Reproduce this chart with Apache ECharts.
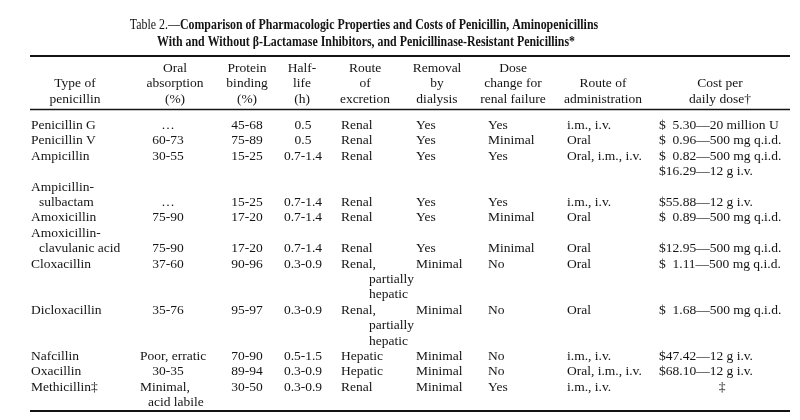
<!DOCTYPE html>
<html><head><meta charset="utf-8">
<script src="https://cdn.jsdelivr.net/npm/echarts@6/dist/echarts.min.js"></script>
<style>html,body{margin:0;padding:0;background:#fff}#c{width:800px;height:420px}</style>
</head><body><div id="c"></div>
<script>
// ---------- DATA ----------
const titleLine1Plain = 'Table 2.\u2014';
const titleLine1Bold = 'Comparison of Pharmacologic Properties and Costs of Penicillin, Aminopenicillins';
const titleLine2Bold = 'With and Without \u03B2-Lactamase Inhibitors, and Penicillinase-Resistant Penicillins*';

const headerTexts = [
  ['', 'Type of', 'penicillin'],
  ['Oral', 'absorption', '(%)'],
  ['Protein', 'binding', '(%)'],
  ['Half-', 'life', '(h)'],
  ['Route', 'of', 'excretion'],
  ['Removal', 'by', 'dialysis'],
  ['Dose', 'change for', 'renal failure'],
  ['', 'Route of', 'administration'],
  ['', 'Cost per', 'daily dose\u2020']
];

// [line, text, flag]  flag 1 = run-over indent, 2 = alternate placement
const typeOfPenicillin = [[0,'Penicillin G'],[1,'Penicillin V'],[2,'Ampicillin'],[4,'Ampicillin-'],[5,'sulbactam',1],[6,'Amoxicillin'],[7,'Amoxicillin-'],[8,'clavulanic acid',1],[9,'Cloxacillin'],[12,'Dicloxacillin'],[15,'Nafcillin'],[16,'Oxacillin'],[17,'Methicillin\u2021']];
const oralAbsorption = [[0,'\u2026'],[1,'60-73'],[2,'30-55'],[5,'\u2026'],[6,'75-90'],[8,'75-90'],[9,'37-60'],[12,'35-76'],[15,'Poor, erratic',2],[16,'30-35'],[17,'Minimal,',2],[18,'acid labile',1]];
const proteinBinding = [[0,'45-68'],[1,'75-89'],[2,'15-25'],[5,'15-25'],[6,'17-20'],[8,'17-20'],[9,'90-96'],[12,'95-97'],[15,'70-90'],[16,'89-94'],[17,'30-50']];
const halfLife = [[0,'0.5'],[1,'0.5'],[2,'0.7-1.4'],[5,'0.7-1.4'],[6,'0.7-1.4'],[8,'0.7-1.4'],[9,'0.3-0.9'],[12,'0.3-0.9'],[15,'0.5-1.5'],[16,'0.3-0.9'],[17,'0.3-0.9']];
const routeOfExcretion = [[0,'Renal'],[1,'Renal'],[2,'Renal'],[5,'Renal'],[6,'Renal'],[8,'Renal'],[9,'Renal,'],[10,'partially',1],[11,'hepatic',1],[12,'Renal,'],[13,'partially',1],[14,'hepatic',1],[15,'Hepatic'],[16,'Hepatic'],[17,'Renal']];
const removalByDialysis = [[0,'Yes'],[1,'Yes'],[2,'Yes'],[5,'Yes'],[6,'Yes'],[8,'Yes'],[9,'Minimal'],[12,'Minimal'],[15,'Minimal'],[16,'Minimal'],[17,'Minimal']];
const doseChangeRenalFailure = [[0,'Yes'],[1,'Minimal'],[2,'Yes'],[5,'Yes'],[6,'Minimal'],[8,'Minimal'],[9,'No'],[12,'No'],[15,'No'],[16,'No'],[17,'Yes']];
const routeOfAdministration = [[0,'i.m., i.v.'],[1,'Oral'],[2,'Oral, i.m., i.v.'],[5,'i.m., i.v.'],[6,'Oral'],[8,'Oral'],[9,'Oral'],[12,'Oral'],[15,'i.m., i.v.'],[16,'Oral, i.m., i.v.'],[17,'i.m., i.v.']];
const costPerDailyDose = [[0,'$\u20075.30\u201420 million U'],[1,'$\u20070.96\u2014500 mg q.i.d.'],[2,'$\u20070.82\u2014500 mg q.i.d.'],[3,'$16.29\u201412 g i.v.'],[5,'$55.88\u201412 g i.v.'],[6,'$\u20070.89\u2014500 mg q.i.d.'],[8,'$12.95\u2014500 mg q.i.d.'],[9,'$\u20071.11\u2014500 mg q.i.d.'],[12,'$\u20071.68\u2014500 mg q.i.d.'],[15,'$47.42\u201412 g i.v.'],[16,'$68.10\u201412 g i.v.'],[17,'\u2021',2]];

const bodyColumns = [typeOfPenicillin, oralAbsorption, proteinBinding, halfLife, routeOfExcretion, removalByDialysis, doseChangeRenalFailure, routeOfAdministration, costPerDailyDose];

// ---------- LAYOUT ----------
const FONT = '"Liberation Serif", "Times New Roman", serif';
const FS = 13.5;
const TFS = 14.5;
const INK = '#141414';
const headerCenters = [75, 175, 247, 302, 365, 437, 513, 603, 720];
const colLayout = [
  {x:31, align:'left', f1:{x:39, align:'left'}},
  {x:168, align:'center', f1:{x:148, align:'left'}, f2:{x:140, align:'left'}},
  {x:247, align:'center'},
  {x:303, align:'center'},
  {x:341, align:'left', f1:{x:369, align:'left'}},
  {x:416, align:'left'},
  {x:488, align:'left'},
  {x:567, align:'left'},
  {x:659, align:'left', f2:{x:722, align:'center'}}
];

const headerData = [];
headerTexts.forEach((col, ci) => col.forEach((t, li) => { if (t) headerData.push({value:[headerCenters[ci], li], text:t, align:'center'}); }));
const bodyData = [];
bodyColumns.forEach((col, ci) => col.forEach(([line, t, flag]) => {
  const L = colLayout[ci];
  const p = flag === 1 ? L.f1 : flag === 2 ? L.f2 : L;
  bodyData.push({value:[p.x, line], text:t, align:p.align});
}));

function textRenderer(data) {
  return function (params, api) {
    const d = data[params.dataIndex];
    const pt = api.coord([api.value(0), api.value(1)]);
    return {type:'text', x:pt[0], y:pt[1], style:{text:d.text, fill:INK, fontSize:FS, fontFamily:FONT, align:d.align, verticalAlign:'middle'}};
  };
}

const titleRich = {
  n:{fontFamily:FONT, fontSize:TFS, fontWeight:'normal', fill:INK},
  b:{fontFamily:FONT, fontSize:TFS, fontWeight:'bold', fill:INK}
};

const chart = echarts.init(document.getElementById('c'), null, {renderer:'canvas'});
chart.setOption({
  backgroundColor:'#ffffff',
  animation:false,
  grid:[
    {left:0, right:0, top:60.25, height:46.5},
    {left:0, right:0, top:117.8, height:292.6}
  ],
  xAxis:[
    {gridIndex:0, type:'value', min:0, max:800, show:false},
    {gridIndex:1, type:'value', min:0, max:800, show:false}
  ],
  yAxis:[
    {gridIndex:0, type:'value', min:-0.5, max:2.5, inverse:true, show:false},
    {gridIndex:1, type:'value', min:-0.5, max:18.5, inverse:true, show:false}
  ],
  graphic:[
    {type:'text', x:364, y:25, scaleX:0.82, style:{text:'{n|' + titleLine1Plain + '}{b|' + titleLine1Bold + '}', rich:titleRich, fill:INK, font:'bold ' + TFS + 'px ' + FONT, align:'center', verticalAlign:'middle'}},
    {type:'text', x:366, y:42, scaleX:0.82, style:{text:'{b|' + titleLine2Bold + '}', rich:titleRich, fill:INK, font:'bold ' + TFS + 'px ' + FONT, align:'center', verticalAlign:'middle'}},
    {type:'line', shape:{x1:30, y1:56, x2:790, y2:56}, style:{stroke:INK, lineWidth:2}},
    {type:'line', shape:{x1:30, y1:109.5, x2:790, y2:109.5}, style:{stroke:INK, lineWidth:1.5}},
    {type:'line', shape:{x1:30, y1:411, x2:790, y2:411}, style:{stroke:INK, lineWidth:2}}
  ],
  series:[
    {type:'custom', xAxisIndex:0, yAxisIndex:0, clip:false, renderItem:textRenderer(headerData), data:headerData.map(d => d.value)},
    {type:'custom', xAxisIndex:1, yAxisIndex:1, clip:false, renderItem:textRenderer(bodyData), data:bodyData.map(d => d.value)}
  ]
});
</script></body></html>
